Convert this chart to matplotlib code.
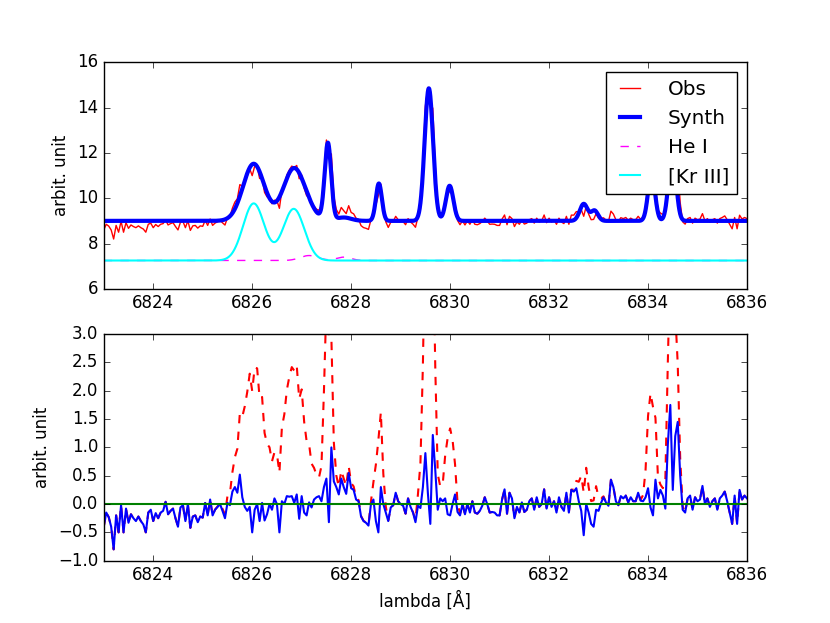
import numpy as np
import matplotlib
matplotlib.use('Agg')
import matplotlib.pyplot as plt

plt.style.use('classic')

# residual obs - synth, 0.05 A steps from 6823.00 to 6836.00
resid = [
    -0.40, -0.15, -0.23, -0.40, -0.80, -0.20, -0.50, -0.02, -0.50, -0.08,
    -0.33, -0.18, -0.25, -0.30, -0.22, -0.30, -0.36, -0.50, -0.15, -0.10,
    -0.30, -0.16, -0.25, -0.15, -0.12, 0.04, -0.18, -0.12, -0.08, -0.25,
    -0.40, -0.06, -0.02, -0.30, 0.00, -0.42, -0.22, -0.20, -0.32, -0.22,
    -0.24, 0.02, -0.20, 0.08, -0.20, -0.10, -0.05, 0.00, -0.12, -0.25,
    0.02, -0.02, 0.22, 0.30, 0.20, 0.52, 0.12, -0.05, -0.12, -0.05,
    -0.50, -0.10, 0.00, -0.30, 0.02, -0.29, -0.18, 0.00, -0.10, 0.10,
    0.00, -0.50, 0.05, 0.00, 0.14, 0.13, 0.14, 0.02, 0.17, -0.26,
    0.14, -0.15, -0.20, 0.03, -0.06, 0.08, 0.12, 0.14, 0.05, 0.30,
    0.45, -0.32, 1.00, 0.40, 0.30, 0.17, 0.45, 0.30, 0.18, 0.55,
    0.28, 0.25, 0.08, 0.05, -0.22, -0.30, -0.33, -0.38, 0.00, 0.08,
    -0.30, -0.50, 0.30, 0.00, -0.15, -0.30, -0.06, -0.02, 0.20, 0.05,
    0.00, -0.03, -0.17, 0.10, -0.05, -0.15, -0.32, -0.03, -0.07, 0.30,
    0.90, 0.20, -0.35, 1.22, 0.60, -0.10, 0.10, 0.05, 0.10, -0.18,
    -0.20, 0.00, 0.17, -0.14, -0.20, 0.00, -0.18, 0.00, -0.15, 0.05,
    -0.15, -0.17, -0.12, -0.03, 0.12, 0.00, -0.15, -0.14, -0.15, -0.20,
    -0.20, 0.08, 0.26, -0.17, 0.20, 0.10, -0.25, -0.05, -0.15, 0.03,
    -0.14, -0.10, 0.05, 0.10, -0.10, 0.12, -0.05, 0.00, 0.26, -0.08,
    0.12, -0.05, 0.05, -0.15, 0.12, -0.05, -0.12, 0.20, -0.15, 0.25,
    0.22, 0.28, 0.05, -0.12, -0.55, 0.00, -0.15, -0.35, -0.40, -0.10,
    -0.12, 0.02, 0.12, 0.03, -0.03, 0.43, 0.30, 0.05, -0.02, 0.14,
    0.10, 0.15, 0.03, 0.12, 0.05, 0.05, 0.20, 0.06, 0.05, 0.12,
    0.28, -0.06, -0.20, 0.43, 0.10, 0.25, 0.15, -0.08, 1.05, 1.75,
    0.25, 1.20, 1.45, 0.50, -0.10, -0.15, 0.10, 0.15, -0.10, 0.12,
    0.05, 0.08, 0.32, 0.00, 0.10, -0.05, 0.05, 0.10, -0.10, 0.10,
    0.15, 0.22, 0.05, -0.15, -0.35, 0.15, -0.35, 0.25, 0.08, 0.15,
    0.10,
]

wmin, wmax = 6823.0, 6836.0
continuum = 9.0
comp_base = 7.25

# line list of the synthetic spectrum (centre, peak above continuum, sigma)
kr3_center = [6826.03, 6826.84]
kr3_peak = [2.52, 2.28]
kr3_sigma = [0.215, 0.215]

hei_center = [6827.15, 6827.85]
hei_peak = [0.22, 0.15]
hei_sigma = [0.18, 0.15]

other_center = [6827.53, 6828.56, 6829.57, 6829.99, 6832.70, 6832.92, 6834.07, 6834.49]
other_peak = [3.40, 1.65, 5.85, 1.55, 0.75, 0.45, 2.10, 3.00]
other_sigma = [0.065, 0.06, 0.085, 0.075, 0.08, 0.07, 0.07, 0.075]


def lines(w, centers, peaks, sigmas):
    out = np.zeros_like(w)
    for c, p, s in zip(centers, peaks, sigmas):
        out += p * np.exp(-0.5 * ((w - c) / s) ** 2)
    return out


def synth(w):
    return (continuum + lines(w, kr3_center, kr3_peak, kr3_sigma)
            + lines(w, hei_center, hei_peak, hei_sigma)
            + lines(w, other_center, other_peak, other_sigma))


resid = np.array(resid)
wave = np.linspace(wmin, wmax, len(resid))
obs = synth(wave) + resid

wfine = np.linspace(wmin, wmax, 2601)

fig = plt.figure(figsize=(8.3, 6.23), dpi=100)

ax1 = fig.add_subplot(211)
ax1.plot(wave, obs, color='red', lw=1.0, label='Obs')
ax1.plot(wfine, synth(wfine), color='blue', lw=3, label='Synth')
ax1.plot(wfine, comp_base + lines(wfine, hei_center, hei_peak, hei_sigma),
         '--', color='magenta', lw=1.0, label='He I')
ax1.plot(wfine, comp_base + lines(wfine, kr3_center, kr3_peak, kr3_sigma),
         color='cyan', lw=1.5, label='[Kr III]')
ax1.set_xlim(wmin, wmax)
ax1.set_ylim(6, 16)
ax1.set_ylabel('arbit. unit')
ax1.ticklabel_format(useOffset=False)
ax1.legend(loc='upper right', handlelength=1.6, handletextpad=1.1)

ax2 = fig.add_subplot(212)
ax2.plot(wave, obs - continuum, '--', color='red', lw=1.5)
ax2.plot(wave, obs - synth(wave), color='blue', lw=1.5)
ax2.axhline(0, color='green', lw=1.5)
ax2.set_xlim(wmin, wmax)
ax2.set_ylim(-1, 3)
ax2.set_ylabel('arbit. unit')
ax2.set_xlabel('lambda [Å]')
ax2.ticklabel_format(useOffset=False)

fig.savefig('out.png', dpi=100, facecolor='w')
